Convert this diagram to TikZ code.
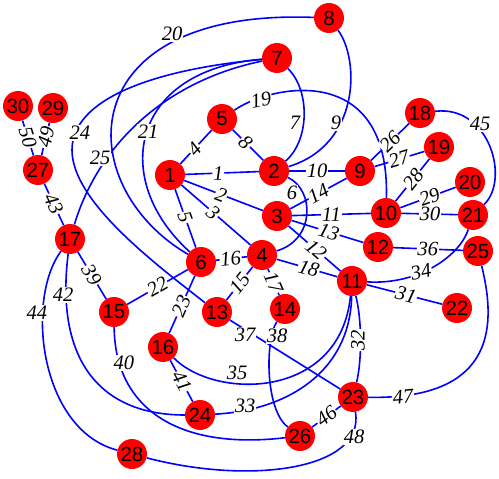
\documentclass[tikz,border=0pt]{standalone}
\usepackage{fontspec}
\setmainfont{Liberation Serif}
\newfontfamily\nodefont{Liberation Sans}
\begin{document}
\begin{tikzpicture}[x=1pt,y=-1pt,
  vtx/.style={circle,fill=red,minimum size=30pt,inner sep=0pt,font=\nodefont\fontsize{20.5}{20.5}\selectfont},
  edg/.style={blue,line width=1.6pt},
  elab/.style={fill=white,inner sep=0.8pt,text=black,font=\itshape\fontsize{20.5}{20.5}\selectfont},
  sl/.style={elab,sloped}]
\useasboundingbox (0,0) rectangle (499,479);
% vertices
\node[vtx] (n1) at (170,175) {1};
\node[vtx] (n2) at (274,171) {2};
\node[vtx] (n3) at (277,216) {3};
\node[vtx] (n4) at (262,255) {4};
\node[vtx] (n5) at (222,119) {5};
\node[vtx] (n6) at (201,262) {6};
\node[vtx] (n7) at (277,58) {7};
\node[vtx] (n8) at (329,18) {8};
\node[vtx] (n9) at (360,171) {9};
\node[vtx] (n10) at (386,213) {10};
\node[vtx] (n11) at (352,281) {11};
\node[vtx] (n12) at (378,247) {12};
\node[vtx] (n13) at (217,312) {13};
\node[vtx] (n14) at (285,309) {14};
\node[vtx] (n15) at (114,312) {15};
\node[vtx] (n16) at (163,347) {16};
\node[vtx] (n17) at (70,239) {17};
\node[vtx] (n18) at (420,113) {18};
\node[vtx] (n19) at (439,147) {19};
\node[vtx] (n20) at (470,182) {20};
\node[vtx] (n21) at (473,215) {21};
\node[vtx] (n22) at (457,308) {22};
\node[vtx] (n23) at (353,397) {23};
\node[vtx] (n24) at (200,415) {24};
\node[vtx] (n25) at (478,251) {25};
\node[vtx] (n26) at (300,436) {26};
\node[vtx] (n27) at (38,170) {27};
\node[vtx] (n28) at (132,454) {28};
\node[vtx] (n29) at (53,108) {29};
\node[vtx] (n30) at (18,106) {30};
% curved edges
\draw[edg] (n8) .. controls (70,8) and (70,185) .. (n6);
\draw[edg] (n7) .. controls (130,70) and (110,180) .. (n6);
\draw[edg] (n7) .. controls (150,70) and (72,100) .. (72,150) .. controls (72,200) and (150,260) .. (n13);
\draw[edg] (n7) .. controls (170,80) and (100,140) .. (n17);
\draw[edg] (n2) .. controls (310,140) and (310,90) .. (n7);
\draw[edg] (n2) .. controls (360,145) and (360,60) .. (n8);
\draw[edg] (n2) .. controls (315,190) and (315,240) .. (n4);
\draw[edg] (n5) .. controls (270,85) and (390,60) .. (n10);
\draw[edg] (n11) .. controls (362,320) and (362,360) .. (n23);
\draw[edg] (n24) .. controls (290,410) and (350,370) .. (n11);
\draw[edg] (n11) .. controls (420,285) and (460,255) .. (n21);
\draw[edg] (n16) .. controls (215,400) and (340,400) .. (n11);
\draw[edg] (n13) -- (n23);
\draw[edg] (n14) .. controls (265,340) and (265,410) .. (n26);
\draw[edg] (n15) .. controls (115,410) and (180,450) .. (n26);
\draw[edg] (n17) .. controls (55,360) and (100,415) .. (n24);
\draw[edg] (n17) .. controls (25,300) and (40,430) .. (n28);
\draw[edg] (n18) .. controls (490,105) and (510,180) .. (n21);
\draw[edg] (n23) .. controls (500,400) and (495,320) .. (n25);
\draw[edg] (n28) .. controls (250,485) and (365,470) .. (n23);
% straight edges with labels
\draw[edg] (n1) -- node[sl,pos=.45] {1} (n2);
\draw[edg] (n1) -- node[sl,pos=.47] {2} (n3);
\draw[edg] (n1) -- node[sl,pos=.46] {3} (n4);
\draw[edg] (n1) -- node[sl,pos=.45] {4} (n5);
\draw[edg] (n1) -- node[sl,pos=.48] {5} (n6);
\draw[edg] (n5) -- node[sl,pos=.42] {8} (n2);
\draw[edg] (n2) -- node[sl,pos=.5] {10} (n9);
\draw[edg] (n3) -- node[sl,pos=.5] {11} (n10);
\draw[edg] (n3) -- node[sl,pos=.53] {12} (n11);
\draw[edg] (n3) -- node[sl,pos=.52] {13} (n12);
\draw[edg] (n3) -- node[sl,pos=.5] {14} (n9);
\draw[edg] (n4) -- node[sl,pos=.49] {15} (n13);
\draw[edg] (n6) -- node[sl,pos=.47] {16} (n4);
\draw[edg] (n4) -- node[sl,pos=.52] {17} (n14);
\draw[edg] (n4) -- node[sl,pos=.53] {18} (n11);
\draw[edg] (n15) -- node[sl,pos=.5] {22} (n6);
\draw[edg] (n6) -- node[sl,pos=.53] {23} (n16);
\draw[edg] (n9) -- node[sl,pos=.5] {26} (n18);
\draw[edg] (n9) -- node[sl,pos=.49] {27} (n19);
\draw[edg] (n10) -- node[sl,pos=.52] {28} (n19);
\draw[edg] (n10) -- node[sl,pos=.53] {29} (n20);
\draw[edg] (n10) -- node[sl,pos=.51] {30} (n21);
\draw[edg] (n11) -- node[sl,pos=.52] {31} (n22);
\draw[edg] (n12) -- node[sl,pos=.5] {36} (n25);
\draw[edg] (n17) -- node[sl,pos=.49] {39} (n15);
\draw[edg] (n16) -- node[sl,pos=.51] {41} (n24);
\draw[edg] (n27) -- node[sl,pos=.48] {43} (n17);
\draw[edg] (n26) -- node[sl,pos=.5] {46} (n23);
\draw[edg] (n27) -- node[sl,pos=.56] {49} (n29);
\draw[edg] (n27) -- node[sl,pos=.52] {50} (n30);
% labels of curved edges
\node[elab] (l6) at (292,193) {6};
\node[elab] (l7) at (295,123) {7};
\node[elab] (l9) at (336,123) {9};
\node[elab,rotate=10] (l19) at (261,100) {19};
\node[elab] (l20) at (172,34) {20};
\node[elab] (l21) at (148,132) {21};
\node[elab] (l24) at (80,133) {24};
\node[elab] (l25) at (100,158) {25};
\node[elab,rotate=90] (l32) at (358,340) {32};
\node[elab] (l33) at (245,406) {33};
\node[elab,rotate=12] (l34) at (421,272) {34};
\node[elab] (l35) at (237,373) {35};
\node[elab] (l37) at (245,335) {37};
\node[elab] (l38) at (277,336) {38};
\node[elab] (l40) at (124,363) {40};
\node[elab] (l42) at (63,295) {42};
\node[elab] (l44) at (37,313) {44};
\node[elab] (l45) at (480,124) {45};
\node[elab,rotate=5] (l47) at (403,397) {47};
\node[elab] (l48) at (354,437) {48};
\end{tikzpicture}
\end{document}
